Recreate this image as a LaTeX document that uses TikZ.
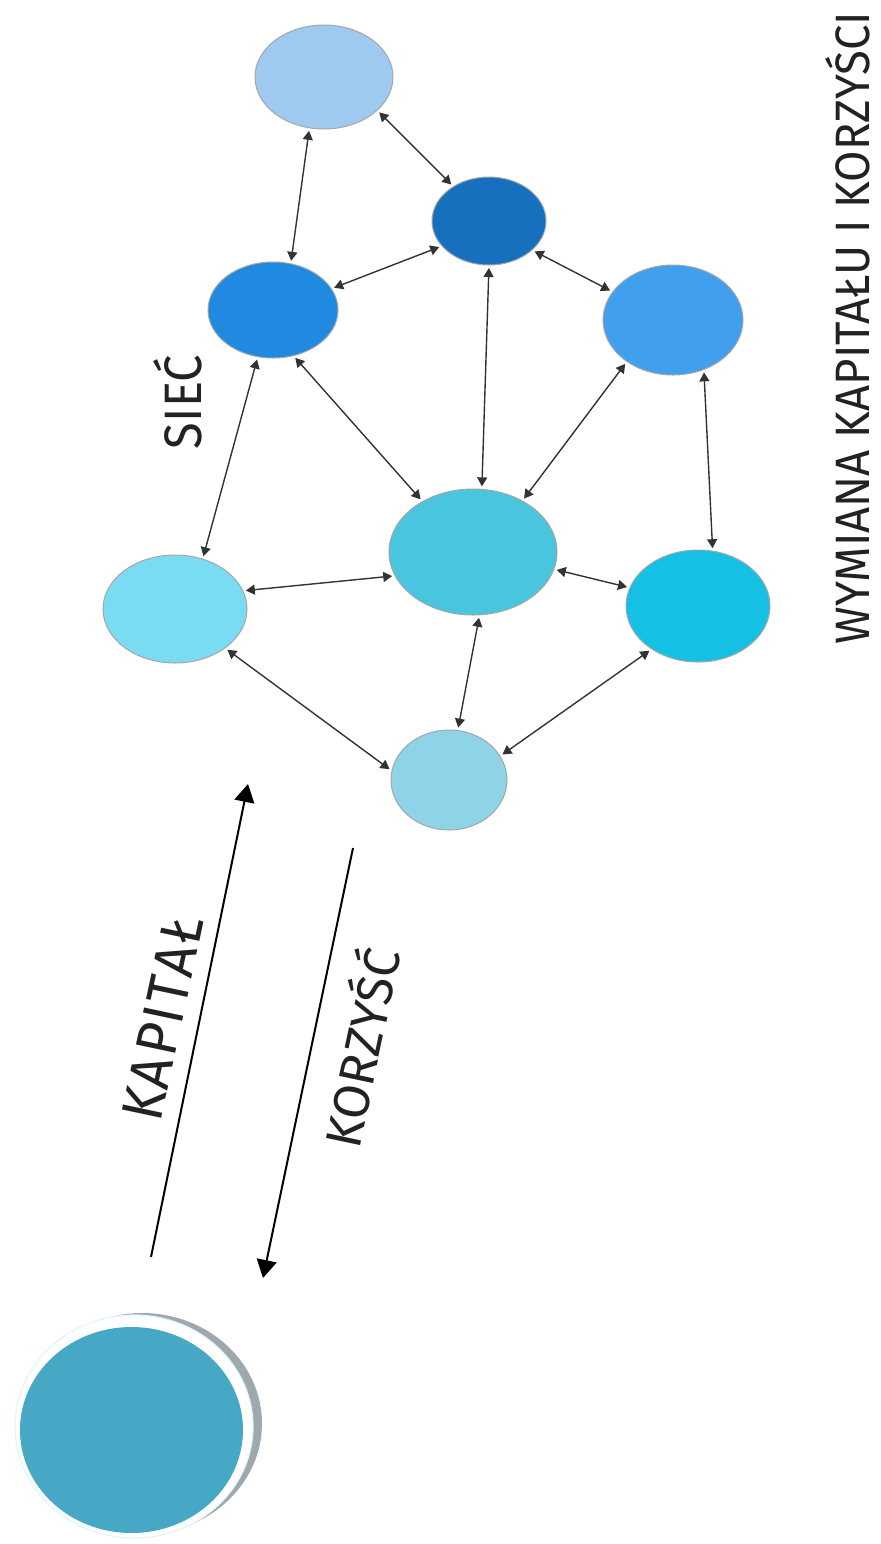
\documentclass[tikz,border=0pt]{standalone}
\usepackage{graphicx}
\usepackage{fontspec}
\newfontfamily\hand{Fira Sans}
\newfontfamily\handnk[Kerning=Off,LetterSpace=4]{Fira Sans}
\usetikzlibrary{shapes.geometric,arrows.meta}
\definecolor{cA}{HTML}{9DCAEE}
\definecolor{cB}{HTML}{1F8AE0}
\definecolor{cC}{HTML}{1670BD}
\definecolor{cD}{HTML}{7ADCF2}
\definecolor{cE}{HTML}{40A0EE}
\definecolor{cF}{HTML}{49C5DF}
\definecolor{cG}{HTML}{15C0E5}
\definecolor{cH}{HTML}{8ED3E7}
\definecolor{cBig}{HTML}{47A8C6}
\definecolor{cShadow}{HTML}{9FA9AD}
\definecolor{cInk}{HTML}{222222}
\tikzset{
  bubble/.style={ellipse, inner sep=0pt, outer sep=0pt, draw=black!35, line width=0.5pt},
  link/.style={{Triangle[length=4.5pt,width=5pt]}-{Triangle[length=4.5pt,width=5pt]},
    draw=black!80, line width=0.7pt, shorten >=1.5pt, shorten <=1.5pt},
  bigarrow/.style={-{Triangle[length=9pt,width=10pt]}, draw=black, line width=1pt},
  lbl/.style={inner sep=0pt, text=cInk, font=\hand}
}
\begin{document}
\begin{tikzpicture}[x=0.5pt,y=-0.5pt]
\useasboundingbox (0,0) rectangle (881,1544);

% network nodes
\node[bubble, fill=cA, minimum width=69pt, minimum height=52pt] (A) at (324,77) {};
\node[bubble, fill=cC, minimum width=57pt, minimum height=44pt] (C) at (489,221) {};
\node[bubble, fill=cB, minimum width=65pt, minimum height=48pt] (B) at (273,310) {};
\node[bubble, fill=cE, minimum width=70pt, minimum height=55pt] (E) at (673,320) {};
\node[bubble, fill=cF, minimum width=84pt, minimum height=63pt] (F) at (473,552) {};
\node[bubble, fill=cD, minimum width=72pt, minimum height=54pt] (D) at (175,609) {};
\node[bubble, fill=cG, minimum width=72pt, minimum height=56pt] (G) at (698,606) {};
\node[bubble, fill=cH, minimum width=58pt, minimum height=50pt] (H) at (449,780) {};

% connectors
\draw[link] (A.-106.8) -- (B.69.9);
\draw[link] (A.-32.6) -- (C.136.7);
\draw[link] (C.-152) -- (B.20.5);
\draw[link] (C.-34.4) -- (E.155.2);
\draw[link] (C.-90) -- (F.82.8);
\draw[link] (B.-108.4) -- (D.61.5);
\draw[link] (B.-66.4) -- (F.135.5);
\draw[link] (E.-138.2) -- (F.46.5);
\draw[link] (E.-58.3) -- (G.75.5);
\draw[link] (D.15.1) -- (F.-163.6);
\draw[link] (F.-12) -- (G.165);
\draw[link] (F.-84) -- (H.80);
\draw[link] (D.-38.9) -- (H.171.4);
\draw[link] (G.-137.5) -- (H.25.3);

% labels
\node[lbl, rotate=90] (title) at (848,328) {\resizebox{316pt}{22pt}{WYMIANA KAPITAŁU I KORZYŚCI}};
\node[lbl, rotate=90] (siec) at (178,402) {\resizebox{47pt}{24pt}{SIEĆ}};

% capital / benefit arrows
\coordinate (kapTail) at (151,1257);
\coordinate (kapTip) at (248,784);
\draw[bigarrow] (kapTail) -- (kapTip);
\coordinate (korStart) at (353,848);
\coordinate (korTip) at (263,1278);
\draw[bigarrow] (korStart) -- (korTip);
\node[lbl, rotate=78] (kap) at (163,1018) {\resizebox{104pt}{20pt}{\handnk KAPITAŁ}};
\node[lbl, rotate=78] (kor) at (358,1047) {\resizebox{101pt}{23pt}{KORZYŚĆ}};

% big circle with shadow
\node[ellipse, inner sep=0pt, fill=cShadow, minimum width=120pt, minimum height=110.5pt] (shadow) at (142,1423.5) {};
\node[ellipse, inner sep=0pt, fill=white, draw=cyan!12, line width=0.6pt, minimum width=119pt, minimum height=111.5pt] (ring) at (134,1426.5) {};
\node[ellipse, inner sep=0pt, fill=cBig, minimum width=111.5pt, minimum height=103pt] (big) at (131.5,1430) {};
\end{tikzpicture}
\end{document}
